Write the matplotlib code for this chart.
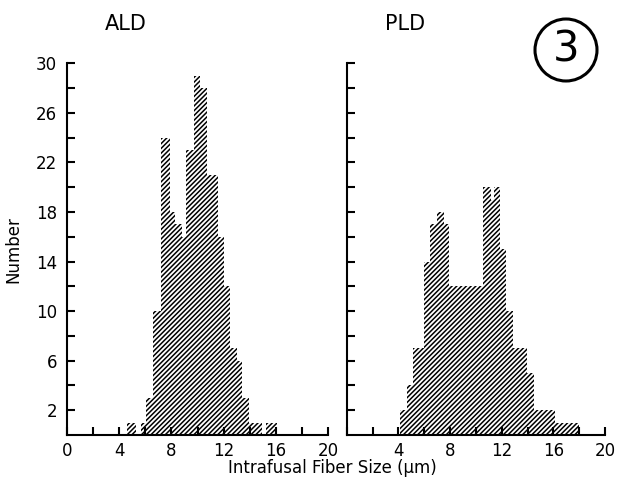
import numpy as np
import matplotlib
matplotlib.use("Agg")
import matplotlib.pyplot as plt
from matplotlib.patches import Circle

# ALD histogram (bin edges in um, counts per bin; 0 = gap)
ald_edges = [4.6, 5.3, 5.7, 6.1, 6.6, 7.2, 7.9, 8.3, 8.8, 9.1, 9.7, 10.2, 10.7,
             11.6, 12.05, 12.45, 13.0, 13.4, 13.95, 14.95, 15.25, 16.1]
ald_counts = [1, 0, 1, 3, 10, 24, 18, 17, 16, 23, 29, 28, 21,
              16, 12, 7, 6, 3, 1, 0, 1]

# PLD histogram
pld_edges = [4.1, 4.7, 5.15, 6.0, 6.45, 7.0, 7.5, 7.9, 10.55, 11.15, 11.4,
             11.9, 12.35, 12.9, 13.95, 14.5, 16.1, 18.0]
pld_counts = [2, 4, 7, 14, 17, 18, 17, 12, 20, 19, 20, 15, 10, 7, 5, 2, 1]

xticks = np.arange(0, 21, 2)
yticks = np.arange(2, 31, 2)

plt.rcParams['font.family'] = ['DejaVu Sans']
plt.rcParams['hatch.linewidth'] = 1.1

W, H = 623, 487
fig = plt.figure(figsize=(W / 100, H / 100), dpi=100)

ax1 = fig.add_axes([66.7 / W, 1 - 435 / H, 261.6 / W, 371.7 / H])
ax2 = fig.add_axes([346.7 / W, 1 - 435 / H, 258.3 / W, 371.7 / H])

for ax, edges, counts in [(ax1, ald_edges, ald_counts), (ax2, pld_edges, pld_counts)]:
    ax.stairs(counts, edges, fill=True, facecolor='white', edgecolor='black',
              hatch='///////', linewidth=0)
    ax.set_xlim(0, 20)
    ax.set_ylim(0, 30)
    for s in ['top', 'right']:
        ax.spines[s].set_visible(False)
    for s in ['left', 'bottom']:
        ax.spines[s].set_linewidth(1.5)
    ax.set_xticks(xticks)
    ax.set_yticks(yticks)
    ax.tick_params(direction='in', length=6, width=1.5, labelsize=12, pad=5)
    ax.tick_params(axis='y', pad=7)

ax1.set_xticklabels([str(v) if v % 4 == 0 else '' for v in xticks])
ax2.set_xticklabels([str(v) if v % 4 == 0 and v > 0 else '' for v in xticks])
ax1.set_yticklabels([str(v) if (v - 2) % 4 == 0 else '' for v in yticks])
ax2.set_yticklabels([])

ax1.set_ylabel('Number', fontsize=12)
ax1.yaxis.set_label_coords(-0.17, 0.5)

fig.text(105 / W, 1 - 24 / H, 'ALD', fontsize=15, ha='left', va='center')
fig.text(385 / W, 1 - 24 / H, 'PLD', fontsize=15, ha='left', va='center')
fig.text(332 / W, 1 - 468 / H, 'Intrafusal Fiber Size (\u03bcm)', fontsize=12,
         ha='center', va='center')

fig.text(566 / W, 1 - 50 / H, '3', fontsize=30, ha='center', va='center')
fig.patches.append(Circle((566, H - 50), 31, transform=None, fill=False,
                          edgecolor='black', linewidth=2.2))

fig.savefig('out.png', dpi=100)
